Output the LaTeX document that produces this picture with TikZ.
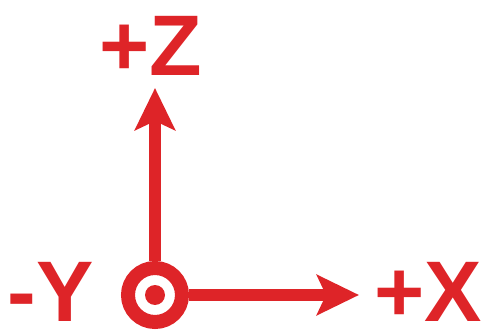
\documentclass[tikz,border=0pt]{standalone}
\usepackage{fontspec}
\setmainfont{Liberation Sans}
\usetikzlibrary{arrows.meta}
\definecolor{axred}{RGB}{222,36,40}
\tikzset{
  axis/.style={draw=axred, line width=12pt, -{Stealth[length=42pt, width=40pt, inset=9pt]}},
  lbl/.style={text=axred, inner sep=0pt, font=\fontsize{86}{86}\selectfont\bfseries},
}
\begin{document}
\begin{tikzpicture}[x=1pt,y=1pt]
\useasboundingbox (0,0) rectangle (487,332);
\node[circle, draw=axred, line width=14pt, minimum size=54pt, inner sep=0pt] (o) at (155,37) {};
\node[circle, fill=axred, minimum size=20pt, inner sep=0pt] (dot) at (o.center) {};
\coordinate (ztip) at (155,244);
\coordinate (xtip) at (359,37);
\draw[axis] (o) -- (ztip);
\draw[axis] (o) -- (xtip);
\node[lbl] (zl) at (151,286) {+Z};
\node[lbl] (yl) at (51,40) {-Y};
\node[lbl] (xl) at (428,40) {+X};
\end{tikzpicture}
\end{document}
